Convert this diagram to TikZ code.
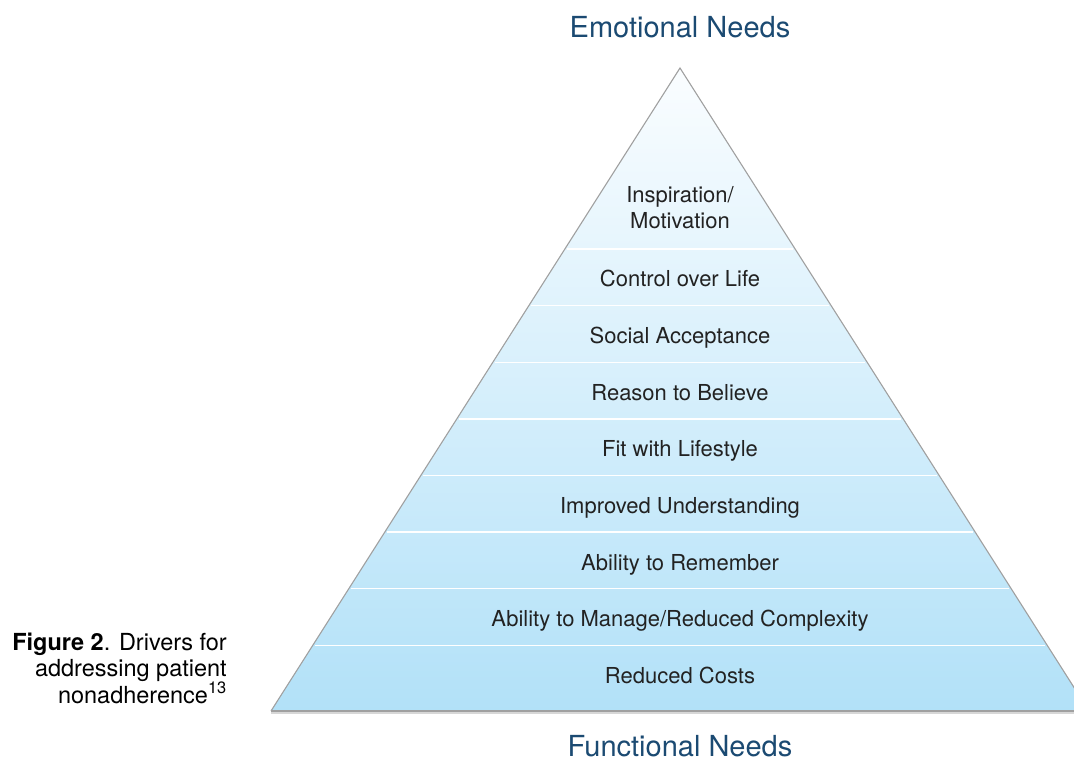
\documentclass[tikz,border=0pt]{standalone}
\usepackage{fontspec}
\setmainfont{TeX Gyre Heros}
\definecolor{needblue}{RGB}{27,74,114}
\definecolor{edgegrey}{RGB}{160,160,160}
\definecolor{shadowgrey}{RGB}{215,215,215}
\definecolor{skytop}{RGB}{250,253,255}
\definecolor{skybot}{RGB}{178,225,248}
\definecolor{labeltext}{RGB}{34,34,34}
\begin{document}
\begin{tikzpicture}[x=1pt,y=-1pt,
  level/.style={font=\fontsize{22}{26}\selectfont, text=labeltext, align=center, inner sep=0pt, anchor=base},
  heading/.style={font=\fontsize{29}{32}\selectfont, text=needblue, inner sep=0pt, anchor=base},
  caption/.style={font=\fontsize{23.5}{25.5}\selectfont, text=black, align=right, inner sep=0pt},
  divider/.style={white, line width=1.4pt},
  outline/.style={edgegrey, line width=1.1pt}]
\useasboundingbox (0,0) rectangle (1074,761);

% pyramid body, clipped at the right edge of the page
\begin{scope}
  \clip (0,0) rectangle (1074,761);
  \shade[top color=skytop, bottom color=skybot]
    (680,68) -- (271,711) -- (1089,711) -- cycle;
  % white lines between the tiers
  \foreach \k in {0,...,7}{
    \pgfmathsetmacro\yy{249+56.6*\k}
    \pgfmathsetmacro\hw{(\yy-68)/643*409-2}
    \draw[divider] ({680-\hw},\yy) -- ({680+\hw},\yy);
  }
  \draw[shadowgrey, line width=1.5pt] (271,713) -- (1089,713);
  \draw[outline] (271,711) -- (1089,711);
  \draw[outline, line join=miter] (271,711) -- (680,68) -- (1089,711);
\end{scope}

% tier labels, top to bottom (placed by the baseline of their last line)
\node[level] (inspiration) at (680,228)   {Inspiration/\\Motivation};
\node[level] (control)     at (680,286.7) {Control over Life};
\node[level] (social)      at (680,343.3) {Social Acceptance};
\node[level] (reason)      at (680,400)   {Reason to Believe};
\node[level] (fit)         at (680,456.7) {Fit with Lifestyle};
\node[level] (understand)  at (680,513.3) {Improved Understanding};
\node[level] (remember)    at (680,570)   {Ability to Remember};
\node[level] (manage)      at (680,626.7) {Ability to Manage/Reduced Complexity};
\node[level] (costs)       at (680,683.3) {Reduced Costs};

% headings above and below the pyramid
\node[heading] (emotional)  at (680,37)  {Emotional Needs};
\node[heading] (functional) at (680,756) {Functional Needs};

% figure caption
\node[caption, anchor=base east] (figcap) at (227,703)
  {\textbf{Figure 2}. Drivers for\\addressing patient\\nonadherence\textsuperscript{13}};
\end{tikzpicture}
\end{document}
